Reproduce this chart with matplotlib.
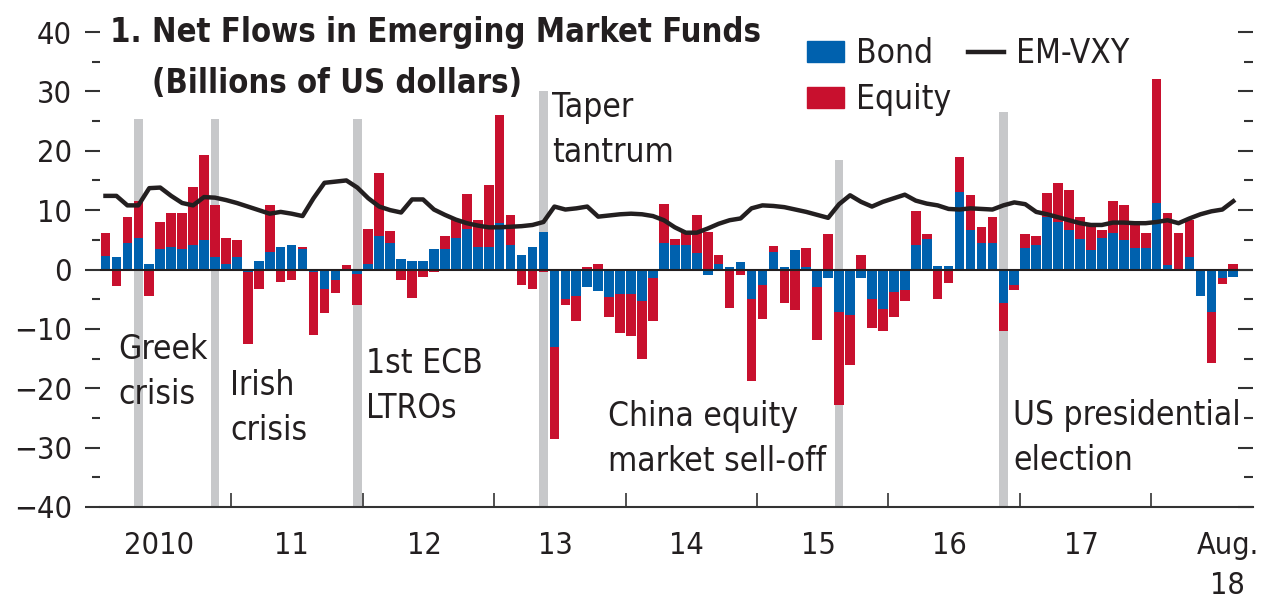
import numpy as np
import matplotlib
matplotlib.use("Agg")
import matplotlib.pyplot as plt
from matplotlib import font_manager
from matplotlib.patches import Patch
from matplotlib.lines import Line2D
from matplotlib.ticker import MultipleLocator

# pick a narrow face if one is installed
avail = {f.name for f in font_manager.fontManager.ttflist}
if "Liberation Sans Narrow" in avail:
    plt.rcParams["font.family"] = ["Liberation Sans Narrow", "DejaVu Sans"]
else:
    plt.rcParams["font.family"] = ["DejaVu Sans"]
    plt.rcParams["font.stretch"] = "condensed"

# monthly data, Jan 2010 .. Aug 2018 (billions of US dollars)
bond = [2.2, 2.1, 4.5, 5.3, 1.0, 3.4, 3.8, 3.4, 4.2, 4.9,
        2.1, 1.0, 2.1, -0.4, 1.4, 3.0, 3.8, 4.2, 3.4, -0.4,
        -3.2, -1.7, 0.0, -0.8, 1.0, 5.7, 4.5, 1.8, 1.4, 1.4,
        3.4, 3.4, 5.3, 6.9, 3.8, 3.8, 7.9, 4.1, 2.5, 3.8,
        6.4, -13.0, -4.9, -4.5, -2.9, -3.7, -4.6, -4.2, -4.2, -5.3,
        -1.4, 4.4, 4.1, 4.1, 2.8, -1.0, 1.0, 0.4, 1.3, -4.9,
        -2.6, 2.9, 0.4, 3.3, 0.5, -2.9, -1.4, -7.2, -7.7, -1.4,
        -5.0, -6.6, -3.8, -3.5, 4.1, 5.2, 0.6, 0.6, 13.0, 6.7,
        4.4, 4.4, -5.7, -2.6, 3.7, 4.1, 8.8, 8.0, 6.7, 5.2,
        3.3, 5.3, 6.1, 4.9, 3.7, 3.7, 11.2, 0.7, 0.0, 2.1,
        -4.4, -7.1, -1.4, -1.3]
equity = [3.9, -2.8, 4.3, 6.2, -4.4, 4.6, 5.8, 6.2, 9.7, 14.4,
          8.7, 4.3, 2.8, -12.2, -3.2, 7.8, -2.1, -1.7, 0.4, -10.6,
          -4.2, -2.2, 0.7, -5.2, 5.9, 10.5, 2.0, -1.7, -4.8, -1.3,
          -0.4, 2.3, 3.1, 5.8, 4.6, 10.4, 18.1, 5.1, -2.6, -3.2,
          -0.4, -15.5, -1.1, -4.2, 0.4, 0.9, -3.4, -6.5, -7.0, -9.7,
          -7.3, 6.6, 1.0, 2.2, 6.4, 6.3, 1.5, -6.4, -1.0, -13.9,
          -5.7, 1.1, -5.7, -6.9, 3.1, -9.0, 6.0, -15.6, -8.4, 2.4,
          -4.9, -3.7, -4.2, -1.8, 5.7, 0.7, -4.9, -2.2, 5.9, 5.8,
          2.8, 4.4, -4.6, -0.8, 2.3, 1.5, 4.1, 6.5, 6.7, 3.6,
          4.0, 1.4, 5.4, 5.9, 4.2, 2.4, 20.9, 8.9, 6.1, 6.2,
          0.0, -8.6, -1.0, 1.0]
em_vxy = [12.4, 12.4, 10.8, 10.8, 13.7, 13.8, 12.4, 11.2, 10.8, 12.2,
          12.1, 11.7, 11.2, 10.6, 10.0, 9.4, 9.7, 9.4, 9.0, 12.0,
          14.6, 14.8, 15.0, 13.8, 12.0, 10.6, 10.0, 9.6, 11.8, 11.8,
          10.1, 9.2, 8.4, 7.8, 7.4, 7.1, 7.1, 7.2, 7.3, 7.5,
          8.0, 10.6, 10.1, 10.3, 10.6, 8.9, 9.1, 9.3, 9.4, 9.3,
          9.0, 8.3, 7.1, 6.2, 6.2, 6.9, 7.7, 8.3, 8.6, 10.3,
          10.8, 10.7, 10.5, 10.1, 9.7, 9.2, 8.7, 11.0, 12.5, 11.4,
          10.6, 11.4, 12.0, 12.6, 11.6, 11.1, 10.8, 10.2, 10.1, 10.3,
          10.2, 10.1, 10.8, 11.3, 11.0, 9.7, 9.3, 8.8, 8.3, 7.8,
          7.5, 7.5, 7.9, 7.9, 7.8, 7.8, 8.0, 8.3, 7.8, 8.6,
          9.3, 9.8, 10.1, 11.5]

# events: month index (0 = Jan 2010), height of the grey marker, label
event_month = [3, 10, 23, 40, 67, 82]
event_top = [25.3, 25.3, 25.3, 30.0, 18.4, 26.5]
event_text = ["Greek\ncrisis", "Irish\ncrisis", "1st ECB\nLTROs", "Taper\ntantrum",
              "China equity\nmarket sell-off", "US presidential\nelection"]
# left edge / baseline of the last line
event_text_xy = [(1.7, -22.6), (11.9, -28.7), (24.3, -25.0), (41.3, 18.1),
                 (46.4, -33.9), (83.4, -33.8)]

year_labels = ["2010", "11", "12", "13", "14", "15", "16", "17", "Aug.\n18"]
year_label_pos = [5.4, 17.5, 29.6, 41.6, 53.6, 65.6, 77.6, 89.6, 103.0]

BLUE = "#0061ae"
RED = "#c8102e"
GREY = "#c7c8ca"
INK = "#231f20"

W, H = 1264, 610
fig = plt.figure(figsize=(W / 100, H / 100), dpi=100)
ax = fig.add_axes([100 / W, 1 - 507 / H, (1253 - 100) / W, (507 - 32) / H])

x = np.arange(len(bond)) + 0.5
bond = np.array(bond)
equity = np.array(equity)
eq_bottom = np.where(bond * equity > 0, bond, 0.0)

# grey event markers behind the bars
ax.bar(np.array(event_month) + 0.5, np.array(event_top) + 40, bottom=-40,
       width=0.8, color=GREY, linewidth=0, zorder=1)

ax.bar(x, bond, width=0.88, color=BLUE, linewidth=0, zorder=2)
ax.bar(x, equity, bottom=eq_bottom, width=0.88, color=RED, linewidth=0, zorder=2)
ax.axhline(0, color=INK, lw=1.5, zorder=3)
ax.plot(x, em_vxy, color=INK, lw=3.2, zorder=4, solid_joinstyle="round")

for txt, (tx, ty) in zip(event_text, event_text_xy):
    ax.text(tx, ty, txt, fontsize=24, color=INK, ha="left", va="baseline",
            linespacing=1.45, zorder=5)

ax.set_xlim(0, len(bond) + 1.3)
ax.set_ylim(-40, 40)

for s in ["left", "right", "top"]:
    ax.spines[s].set_visible(False)
ax.spines["bottom"].set_color("#333333")
ax.spines["bottom"].set_linewidth(1.5)

ax.set_xticks(np.arange(12, 100, 12))
ax.set_xticklabels([])
ax.set_xticks(year_label_pos, minor=True)
ax.set_xticklabels(year_labels, minor=True)
for t in ax.get_xticklabels(minor=True):
    t.set_linespacing(1.5)
ax.tick_params(axis="x", which="major", direction="in", length=10, width=1.2,
               color="#333333")
ax.tick_params(axis="x", which="minor", length=0, pad=17, labelsize=22,
               labelcolor=INK)

ax.set_yticks(np.arange(-40, 41, 10))
ax.yaxis.set_minor_locator(MultipleLocator(5))
ax.tick_params(axis="y", which="major", direction="out", length=11, width=1.5,
               color="#333333", labelsize=22, labelcolor=INK, pad=9)
ax.tick_params(axis="y", which="minor", direction="out", length=6, width=1.5,
               color="#333333")

# right-hand ticks point inward
ax2 = ax.twinx()
ax2.set_ylim(-40, 40)
ax2.set_yticks(np.arange(-40, 41, 10))
ax2.yaxis.set_minor_locator(MultipleLocator(5))
ax2.tick_params(axis="y", which="major", direction="in", length=11, width=1.5,
                color="#333333", labelright=False)
ax2.tick_params(axis="y", which="minor", direction="in", length=6.5, width=1.5,
                color="#333333")
for s in ax2.spines.values():
    s.set_visible(False)

fig.text(110 / W, 1 - 42 / H, "1. Net Flows in Emerging Market Funds",
         fontsize=23.5, fontweight="bold", color=INK, va="baseline")
fig.text(152 / W, 1 - 93 / H, "(Billions of US dollars)",
         fontsize=23.5, fontweight="bold", color=INK, va="baseline")

handles = [Patch(color=BLUE, label="Bond"), Patch(color=RED, label="Equity"),
           Line2D([], [], color=INK, lw=3.2, label="EM-VXY")]
leg = ax.legend(handles=handles, ncol=2, frameon=False, fontsize=24,
                loc="upper left", bbox_to_anchor=(807 / W, 1 - 37 / H),
                bbox_transform=fig.transFigure, handlelength=1.1,
                handleheight=0.6, handletextpad=0.36, columnspacing=0.5,
                labelspacing=0.4, borderpad=0, borderaxespad=0)
for t in leg.get_texts():
    t.set_color(INK)

fig.savefig("out.png", dpi=100)
